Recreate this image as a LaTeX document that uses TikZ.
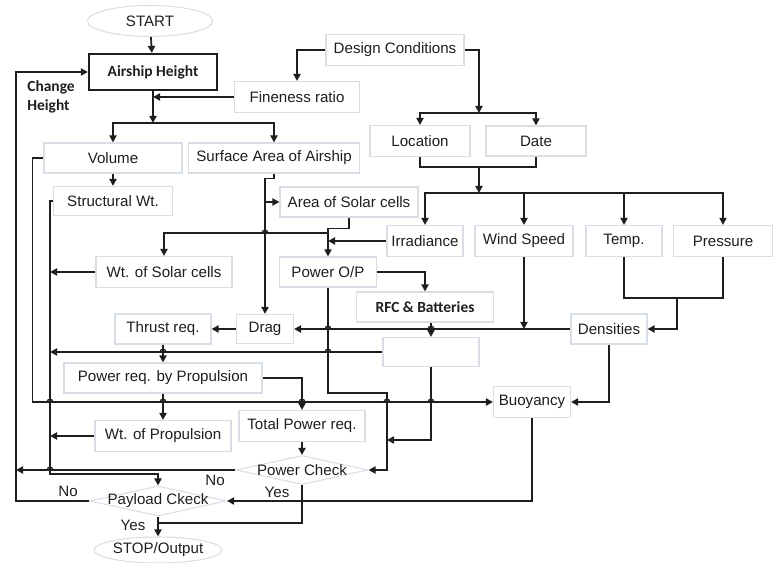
\documentclass[tikz,border=0pt]{standalone}
\usepackage{fontspec}
\setmainfont{Liberation Sans}
\newfontfamily\calibfont{Carlito}
\usepackage{tikz}
\usetikzlibrary{shapes.geometric,arrows.meta}
\definecolor{boxline}{RGB}{216,222,230}
\definecolor{ink}{RGB}{30,30,30}
\tikzset{main/.style={draw=boxline, line width=0.6pt, rectangle, inner sep=0pt, text=ink, font=\fontsize{8.6}{10}\selectfont},
         wh/.style n args={2}{minimum width=#1cm, minimum height=#2cm},
         strong/.style={font=\calibfont\bfseries\fontsize{8.8}{10.8}\selectfont},
         term/.style={main, ellipse},
         check/.style={main, diamond, aspect=4.6, inner xsep=0pt, inner ysep=-2pt},
         lbl/.style={inner sep=0pt, text=ink, font=\fontsize{8.6}{10}\selectfont},
         line/.style={draw=ink, line width=1pt},
         arr/.style={line, -{Triangle[length=4pt,width=4pt]}}}
\newcommand{\hop}[1]{\draw[draw=ink, line width=0.8pt] ([xshift=-1.6pt]#1) arc[start angle=180, end angle=0, radius=1.6pt];}

\begin{document}
\begin{tikzpicture}[x=0.02cm, y=-0.02cm]
                    \useasboundingbox (0,0) rectangle (777,563);

                    \node[term, wh={2.5}{0.62}] (start) at (150,21) {START};
                    \node[main, strong, draw=ink, line width=1.2pt, wh={2.56}{0.72}] (height) at (153,72) {Airship Height};
                    \node[main, wh={2.76}{0.62}] (design) at (395,50) {Design Conditions};
                    \node[main, wh={2.5}{0.62}] (fineness) at (297,97) {Fineness ratio};
                    \node[main, wh={2.0}{0.62}] (location) at (420,141) {Location};
                    \node[main, wh={2.0}{0.6}] (date) at (536,141) {Date};

                    \node[main, wh={2.76}{0.6}] (volume) at (113,158) {Volume};
                    \node[main, wh={3.42}{0.6}] (surface) at (274,158) {Surface Area of Airship};
                    \node[main, wh={2.38}{0.58}] (structural) at (113,201) {Structural Wt.};
                    \node[main, wh={2.76}{0.6}] (solararea) at (349,202) {Area of Solar cells};

                    \node[main, wh={1.52}{0.62}] (irradiance) at (425,241) {Irradiance};
                    \node[main, wh={1.96}{0.62}] (wind) at (524,241) {Wind Speed};
                    \node[main, wh={1.52}{0.62}] (temp) at (624,241) {Temp.};
                    \node[main, wh={1.98}{0.62}] (pressure) at (723,241) {Pressure};

                    \node[main, wh={2.72}{0.62}] (solarwt) at (164,272) {Wt. of Solar cells};
                    \node[main, wh={1.94}{0.6}] (powerop) at (328,272) {Power O/P};
                    \node[main, strong, wh={2.74}{0.6}] (rfc) at (425,307) {RFC \& Batteries};
                    \node[main, wh={1.92}{0.6}] (thrust) at (163,329) {Thrust req.};
                    \node[main, wh={1.14}{0.58}] (drag) at (265,329) {Drag};
                    \node[main, wh={1.52}{0.6}] (densities) at (609,329) {Densities};
                    \node[main, wh={1.92}{0.58}] (blank) at (431,352) {};

                    \node[main, wh={3.96}{0.6}] (propreq) at (163,378) {Power req. by Propulsion};
                    \node[main, wh={1.54}{0.62}] (buoyancy) at (532,402) {Buoyancy};
                    \node[main, wh={2.52}{0.62}] (totalreq) at (302,426) {Total Power req.};
                    \node[main, wh={2.72}{0.62}] (propwt) at (163,436) {Wt. of Propulsion};

                    \node[check, wh={2.64}{0.58}] (powercheck) at (302,470) {Power Check};
                    \node[check, wh={2.74}{0.6}] (payload) at (158,501) {Payload Ckeck};
                    \node[term, wh={2.46}{0.52}] (stop) at (158,550) {STOP/Output};

                    \node[lbl, strong, align=left, anchor=west] (change) at (27,97) {Change\\Height};
                    \node[lbl] (no1) at (68,491) {No};
                    \node[lbl] (no2) at (215,480) {No};
                    \node[lbl] (yes1) at (277,492) {Yes};
                    \node[lbl] (yes2) at (133,525) {Yes};

                    \coordinate (dsplit) at (479,113);
                    \coordinate (lsplit) at (479,167);
                    \coordinate (wsplit) at (479,193);
                    \coordinate (hsplit) at (153,123);
                    \coordinate (wsum) at (50,474);
                    \coordinate (pjoin) at (328,233);
                    \coordinate (tpjoin) at (677,298);
                    \coordinate (pbend) at (387,393);
                    \coordinate (bbend) at (431,440);
                    \coordinate (yesjoin) at (158,523);
                    \coordinate (back) at (16,501);

                    % top part
                    \draw[arr] (start) -- (height);
                    \draw[arr] (design.west) -| (fineness.north);
                    \draw[arr] (design.east) -| (dsplit);
                    \draw[arr] (dsplit) -| (location.north);
                    \draw[arr] (dsplit) -| (date.north);
                    \draw[line] (location.south) |- (lsplit) -| (date.south);
                    \draw[arr] (lsplit) -- (wsplit);
                    \foreach \n in {irradiance,wind,temp,pressure}
                        \draw[arr] (wsplit) -| (\n.north);

                    \draw[arr] (height.south) -- (hsplit);
                    \draw[arr] (fineness.west) -- (fineness.west -| height.south);
                    \draw[arr] (hsplit) -| (volume.north);
                    \draw[arr] (hsplit) -| (surface.north);
                    \draw[arr] (volume) -- (structural);

                    % weights
                    \draw[arr] (volume.west) -- ++(-11,0) |- (buoyancy.west);
                    \draw[arr] (structural.west) -| (wsum) -| (payload.north);
                    \draw[arr] (solarwt.west) -- (solarwt.west -| wsum);
                    \draw[arr] (blank.west) -- (blank.west -| wsum);
                    \draw[arr] (propwt.west) -- (propwt.west -| wsum);

                    % solar cells and power
                    \draw[arr] (surface.south) -- ++(0,5) -| (drag.north);
                    \draw[arr] (solararea.west -| drag.north) -- (solararea.west);
                    \draw[arr] (solararea.south) -- ++(0,11) -| (powerop.north);
                    \draw[arr] (pjoin) -| (solarwt.north);
                    \draw[arr] (irradiance.west) -- (irradiance.west -| powerop.north);
                    \draw[arr] (powerop.east) -| (rfc.north);
                    \draw[arr] (rfc.south -| blank.north) -- (blank.north);

                    % atmosphere
                    \draw[arr] (densities.west) -- (drag.east);
                    \draw[arr] (wind.south) -- (wind.south |- densities.west);
                    \draw[line] (temp.south) |- (tpjoin) -| (pressure.south);
                    \draw[arr] (tpjoin) |- (densities.east);
                    \draw[arr] (densities.south) |- (buoyancy.east);

                    % propulsion
                    \draw[arr] (drag) -- (thrust);
                    \draw[arr] (thrust) -- (propreq);
                    \draw[arr] (propreq) -- (propwt);
                    \draw[arr] (propreq.east) -| (totalreq.north);
                    \draw[arr] (totalreq) -- (powercheck);
                    \draw[arr] (powerop.south) |- (pbend) |- (powercheck.east);
                    \draw[arr] (blank.south) -- (bbend) -- (bbend -| pbend);

                    % checks
                    \draw[arr] (buoyancy.south) |- (payload.east);
                    \draw[line] (powercheck.south) |- (yesjoin);
                    \draw[arr] (payload.south) -- (stop.north);
                    \draw[arr] (powercheck.west) -- (powercheck.west -| back);
                    \draw[arr] (payload.west) -- (back) |- (height.west);

                    % line hops
                    \foreach \x/\y in {265/233,328/329,431/329,328/352,163/352,50/402,163/402,302/402,387/402,431/402,50/470}
                        {\hop{\x,\y}}

                 \end{tikzpicture}
\end{document}
